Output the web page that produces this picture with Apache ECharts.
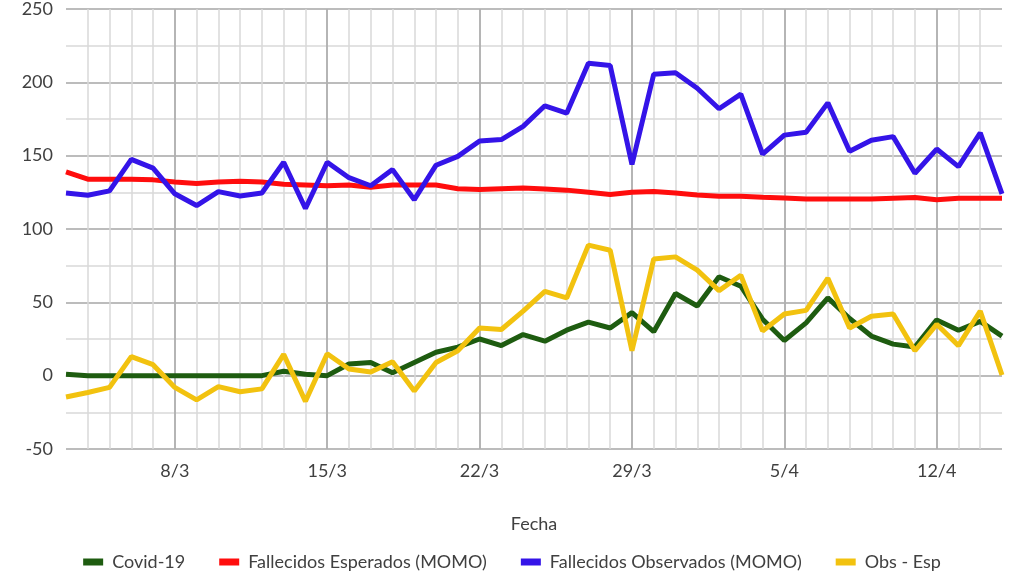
<!DOCTYPE html>
<html>
<head>
<meta charset="utf-8">
<script src="https://cdn.jsdelivr.net/npm/echarts@6/dist/echarts.min.js"></script>
<style>
html,body{margin:0;padding:0;background:#fff;}
#chart{width:1024px;height:576px;}
</style>
</head>
<body>
<div id="chart"></div>
<script>
const categories = ['3/3','4/3','5/3','6/3','7/3','8/3','9/3','10/3','11/3','12/3','13/3','14/3','15/3','16/3','17/3','18/3','19/3','20/3','21/3','22/3','23/3','24/3','25/3','26/3','27/3','28/3','29/3','30/3','31/3','1/4','2/4','3/4','4/4','5/4','6/4','7/4','8/4','9/4','10/4','11/4','12/4','13/4','14/4','15/4'];
const covid = [1, 0, 0, 0, 0, 0, 0, 0, 0, 0, 3, 1, 0, 8, 9, 2, 9, 16, 19.5, 25, 20.5, 28, 23.5, 31, 36.5, 32.5, 43, 30, 56, 47.5, 67.5, 61, 38.5, 24, 36, 53, 39, 27, 21.5, 19.5, 38, 31, 37, 27];
const esperados = [139, 134, 134, 134, 133.5, 132, 131, 132, 132.5, 132, 130.5, 130, 129.5, 130, 128.5, 130, 130, 130, 127.5, 127, 127.5, 128, 127.3, 126.5, 125, 123.5, 125, 125.5, 124.5, 123.2, 122.3, 122.3, 121.6, 121.2, 120.5, 120.5, 120.5, 120.5, 121, 121.4, 120, 121, 121, 121];
const observados = [124.5, 123, 126, 147.5, 141.5, 124, 116, 125.5, 122.5, 124.5, 145.5, 114, 145.5, 135, 129.5, 140.5, 120, 143.5, 149.5, 160, 161, 170, 184, 179, 213, 211.5, 144, 205.5, 206.5, 196, 182, 192, 151, 164, 166, 186, 153, 160.5, 163, 138, 154.5, 142.5, 165.5, 124];
const obsEsp = [-14.5, -11.5, -8, 13, 7.5, -8, -16.5, -7.5, -11, -9, 14.5, -17.5, 15, 4.5, 2.5, 9.5, -10.5, 9, 17, 32.5, 31.5, 44, 57.5, 53, 89, 85.5, 17, 79.5, 81, 72, 58, 68.5, 30.5, 42, 44.5, 66.5, 32.5, 40.5, 42, 17, 35, 20.5, 44, 0.5];
const tickLabels = ['8/3','15/3','22/3','29/3','5/4','12/4'];
const seriesNames = ['Covid-19','Fallecidos Esperados (MOMO)','Fallecidos Observados (MOMO)','Obs - Esp'];

const FONT = 'Lato';
const TXT = '#404040';
const isMajor = (i) => tickLabels.indexOf(categories[i]) >= 0;

const chart = echarts.init(document.getElementById('chart'), null, {renderer:'canvas'});
chart.setOption({
  animation: false,
  backgroundColor: '#ffffff',
  textStyle: {fontFamily: FONT},
  grid: {left: 66, right: 22, top: 5, bottom: 127, containLabel: false},
  legend: {
    data: seriesNames,
    top: 548,
    left: 'center',
    icon: 'rect',
    itemWidth: 20,
    itemHeight: 7,
    itemGap: 34,
    textStyle: {fontFamily: FONT, fontSize: 18, color: TXT, padding: [0, 0, 0, 4]}
  },
  xAxis: [
    {
      type: 'category', data: categories, boundaryGap: false, position: 'top',
      axisLine: {show: false}, axisTick: {show: false}, axisLabel: {show: false},
      splitLine: {show: true, interval: 0, showMinLine: false, showMaxLine: false, lineStyle: {color: '#d9d9d9', width: 1.5}}
    },
    {
      type: 'category', data: categories, boundaryGap: false, position: 'bottom',
      axisLine: {show: false}, axisTick: {show: false},
      axisLabel: {interval: (i) => isMajor(i), fontFamily: FONT, fontSize: 18, color: TXT, margin: 13},
      splitLine: {show: true, interval: (i) => isMajor(i), lineStyle: {color: '#a6a6a6', width: 1.5}},
      name: 'Fecha', nameLocation: 'middle', nameGap: 66,
      nameTextStyle: {fontFamily: FONT, fontSize: 18, color: TXT}
    }
  ],
  yAxis: {
    type: 'value', min: -50, max: 250, interval: 50,
    axisLine: {show: false}, axisTick: {show: false},
    axisLabel: {fontFamily: FONT, fontSize: 18, color: TXT, margin: 13},
    splitLine: {show: true, lineStyle: {color: '#a6a6a6', width: 1.5}},
    minorTick: {show: false, splitNumber: 2},
    minorSplitLine: {show: true, lineStyle: {color: '#d9d9d9', width: 1.5}}
  },
  series: [
    {name: seriesNames[0], type: 'line', xAxisIndex: 0, data: covid, showSymbol: false, lineStyle: {color: '#1e5c10', width: 5}, itemStyle: {color: '#1e5c10'}},
    {name: seriesNames[1], type: 'line', xAxisIndex: 0, data: esperados, showSymbol: false, lineStyle: {color: '#ff0d0d', width: 5}, itemStyle: {color: '#ff0d0d'}},
    {name: seriesNames[2], type: 'line', xAxisIndex: 0, data: observados, showSymbol: false, lineStyle: {color: '#3414e8', width: 5}, itemStyle: {color: '#3414e8'}},
    {name: seriesNames[3], type: 'line', xAxisIndex: 0, data: obsEsp, showSymbol: false, lineStyle: {color: '#f2c20f', width: 5}, itemStyle: {color: '#f2c20f'}}
  ]
});
</script>
</body>
</html>
